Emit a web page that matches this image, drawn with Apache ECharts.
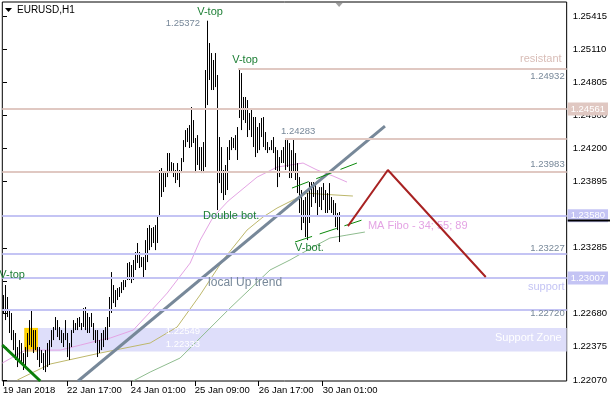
<!DOCTYPE html>
<html><head><meta charset="utf-8">
<script src="https://cdn.jsdelivr.net/npm/echarts@6/dist/echarts.min.js"></script>
<style>html,body{margin:0;padding:0;background:#fff}#c{width:610px;height:400px}</style>
</head><body><div id="c"></div>
<script>
// ---------- data ----------
const barHigh = [
1.22851,1.22943,1.22833,1.22713,1.22686,1.22529,1.22502,1.22373,1.22437,1.22410,
1.22318,1.22373,1.22502,1.22621,1.22713,1.22529,1.22529,1.22373,1.22373,1.22345,
1.22318,1.22345,1.22410,1.22437,1.22529,1.22557,1.22649,1.22621,1.22557,1.22529,
1.22502,1.22621,1.22502,1.22410,1.22529,1.22621,1.22594,1.22640,1.22649,1.22594,
1.22731,1.22741,1.22686,1.22649,1.22686,1.22594,1.22529,1.22529,1.22437,1.22502,
1.22529,1.22557,1.22649,1.22833,1.23062,1.22943,1.22897,1.22915,1.22924,1.22970,
1.22989,1.22989,1.23145,1.23154,1.23127,1.23173,1.23246,1.23329,1.23246,1.23200,
1.23200,1.23356,1.23467,1.23494,1.23467,1.23476,1.23494,1.23586,1.24000,1.24018,
1.23972,1.23981,1.24156,1.24156,1.24073,1.24064,1.24000,1.24064,1.24000,1.24110,
1.24275,1.24367,1.24386,1.24413,1.24579,1.24459,1.24294,1.24321,1.24211,1.24211,
1.24257,1.24919,1.25372,1.25167,1.25075,1.25011,1.25075,1.24873,1.24303,1.24211,
1.24000,1.24046,1.24211,1.24275,1.24303,1.24294,1.24321,1.24395,1.24932,1.24891,
1.24671,1.24671,1.24643,1.24524,1.24569,1.24487,1.24487,1.24395,1.24432,1.24478,
1.24487,1.24349,1.24257,1.24211,1.24275,1.24303,1.24211,1.24183,1.24119,1.24183,
1.24211,1.24283,1.24275,1.24248,1.24183,1.24283,1.24156,1.24064,1.23935,1.23816,
1.23724,1.23752,1.23788,1.23889,1.23889,1.23889,1.23880,1.23816,1.23843,1.23843,
1.23880,1.23816,1.23788,1.23880,1.23752,1.23724,1.23696,1.23605,1.23614];
const barLow = [
1.22686,1.22621,1.22649,1.22502,1.22437,1.22345,1.22254,1.22189,1.22226,1.22226,
1.22162,1.22189,1.22281,1.22391,1.22373,1.22318,1.22345,1.22254,1.22189,1.22226,
1.22162,1.22143,1.22189,1.22208,1.22373,1.22437,1.22529,1.22465,1.22437,1.22410,
1.22373,1.22437,1.22281,1.22254,1.22373,1.22502,1.22529,1.22529,1.22557,1.22529,
1.22557,1.22529,1.22502,1.22502,1.22557,1.22437,1.22410,1.22281,1.22318,1.22345,
1.22373,1.22437,1.22437,1.22557,1.22686,1.22777,1.22741,1.22805,1.22833,1.22869,
1.22897,1.22924,1.22989,1.22989,1.22961,1.22989,1.23081,1.23145,1.23099,1.23108,
1.23016,1.23081,1.23154,1.23264,1.23292,1.23329,1.23264,1.23329,1.23568,1.23752,
1.23798,1.23843,1.23935,1.23972,1.23972,1.23935,1.23880,1.23908,1.23843,1.23972,
1.24073,1.24211,1.24257,1.24202,1.24211,1.24248,1.23972,1.24046,1.24000,1.23972,
1.23972,1.24027,1.24597,1.24827,1.24735,1.24735,1.24762,1.23632,1.23880,1.23788,
1.23724,1.23770,1.23816,1.24092,1.24183,1.24202,1.24183,1.24092,1.24478,1.24367,
1.24459,1.24432,1.24303,1.24367,1.24303,1.24211,1.24119,1.24156,1.24183,1.24303,
1.24211,1.24183,1.24156,1.24183,1.24183,1.24156,1.24000,1.23843,1.23935,1.24064,
1.24064,1.24000,1.24027,1.23926,1.23926,1.23981,1.23908,1.23788,1.23605,1.23448,
1.23513,1.23384,1.23356,1.23513,1.23660,1.23752,1.23696,1.23568,1.23660,1.23632,
1.23724,1.23605,1.23605,1.23632,1.23605,1.23568,1.23476,1.23448,1.23338];

const timeTicks  = [0, 32, 64, 96, 128, 160];
const timeLabels = ['19 Jan 2018', '22 Jan 17:00', '24 Jan 01:00', '25 Jan 09:00', '26 Jan 17:00', '30 Jan 01:00'];
const priceTicks = [1.22070, 1.22375, 1.22680, 1.22980, 1.23285, 1.23580, 1.23895, 1.24200, 1.24500, 1.24805, 1.25110, 1.25415];

// moving averages (bar index, price)
const ma34 = [[-0.35,1.22226],[11.2,1.22345],[28.7,1.22345],[38.7,1.22391],[48.7,1.22437],[53.7,1.22456],[65.2,1.22529],[72.2,1.22667],[82.2,1.22869],[93.7,1.23145],[98.7,1.23356],[105.2,1.23568],[112.7,1.23715],[127.2,1.23935],[137.2,1.24027],[150.2,1.24064],[157.2,1.24000],[165.2,1.23945],[172.2,1.23889]];
const ma55 = [[7.15,1.22070],[23.65,1.22217],[48.65,1.22318],[58.65,1.22355],[73.65,1.22410],[87.15,1.22557],[98.65,1.22851],[110.15,1.23173],[122.15,1.23448],[130.15,1.23568],[137.15,1.23650],[145.15,1.23724],[152.15,1.23788],[158.65,1.23779],[175.15,1.23761]];
const ma89 = [[65.15,1.22061],[73.65,1.22143],[88.65,1.22272],[98.65,1.22456],[113.65,1.22731],[133.65,1.23081],[143.65,1.23173],[155.15,1.23292],[163.65,1.23375],[172.15,1.23402],[181.15,1.23430]];

// drawn objects (bar index, price)
const upTrend     = [[37.6,1.22061],[191.2,1.24404]];
const downTrend   = [[-0.35,1.22392],[18.65,1.22061]];
const chanUpper   = [[144.65,1.23834],[177.15,1.24064]];
const chanLower   = [[146.15,1.23338],[181.15,1.23549]];
const projection  = [[172.65,1.23485],[192.65,1.24000],[241.65,1.23017]];
const resistLevels = [1.24932, 1.24561, 1.24283, 1.23983];
const resistStart  = [117.65, null, 141.15, null];
const supportLevels = [1.23580, 1.23227, 1.23007, 1.22720];
const zoneTop = 1.22549, zoneBottom = 1.22333, zoneStart = 10.65, yellowEnd = 17.5;
const bidPrice = 1.23540;

// ---------- layout / style ----------
const XMIN = -0.35, XMAX = 282.15;
const AX_FONT = '"Liberation Sans",Arial,sans-serif';
const AX_SIZE = 9.5;
const TXT_FONT = '"Liberation Sans",Arial,sans-serif';
const RES_C = '#e0c8c2', SUP_C = '#c4c4f4', GRAY = '#778899', GTXT = '#1d7f35';

const notes = [
  {t:'V-top', x:103.65, y:1.25452, a:'center', c:GTXT, f:11},
  {t:'1.25372', x:98.65, y:1.25351, a:'right', c:GRAY, f:AX_SIZE},
  {t:'V-top', x:121.15, y:1.25011, a:'center', c:GTXT, f:11},
  {t:'1.24283', x:139.15, y:1.24358, a:'left', c:GRAY, f:AX_SIZE},
  {t:'resistant', x:279.65, y:1.25020, a:'right', c:'#d8bcb6', f:11},
  {t:'1.24932', x:281.15, y:1.24864, a:'right', c:GRAY, f:AX_SIZE},
  {t:'1.23983', x:281.15, y:1.24055, a:'right', c:GRAY, f:AX_SIZE},
  {t:'Double bot.', x:100.15, y:1.23577, a:'left', c:GTXT, f:11},
  {t:'V-bot.', x:153.4, y:1.23283, a:'center', c:GTXT, f:11},
  {t:'MA Fibo - 34; 55; 89', x:182.65, y:1.23485, a:'left', c:'#e4a4e4', f:11},
  {t:'1.23227', x:281.15, y:1.23283, a:'right', c:GRAY, f:AX_SIZE},
  {t:'local Up trend', x:102.65, y:1.22961, a:'left', c:GRAY, f:12},
  {t:'support', x:281.15, y:1.22924, a:'right', c:SUP_C, f:11},
  {t:'1.22720', x:281.15, y:1.22686, a:'right', c:GRAY, f:AX_SIZE},
  {t:'Support Zone', x:279.65, y:1.22456, a:'right', c:'#ffffff', f:11},
  {t:'1.22549', x:98.65, y:1.22520, a:'right', c:'#ffffff', f:AX_SIZE},
  {t:'1.22333', x:98.65, y:1.22401, a:'right', c:'#ffffff', f:AX_SIZE},
  {t:'V-top', x:-1.85, y:1.23035, a:'left', c:GTXT, f:11}
];

function hLine(v, x0, color, boxed) {
  return [{
    coord: [x0 == null ? XMIN : x0, v],
    lineStyle: {color: color, width: 2, type: 'solid'},
    label: boxed ? {show: true, position: 'end', distance: 1, formatter: v.toFixed(5),
      color: '#fff', backgroundColor: color, padding: [2, 3, 1, 3],
      fontFamily: AX_FONT, fontSize: AX_SIZE} : {show: false}
  }, {coord: [XMAX, v]}];
}
const levelLines = [];
resistLevels.forEach((v, i) => levelLines.push(hLine(v, resistStart[i], RES_C, v === 1.24561)));
supportLevels.forEach(v => levelLines.push(hLine(v, null, SUP_C, v === 1.23580 || v === 1.23007)));

function simpleLine(data, color, width, z, type) {
  return {type: 'line', data: data, symbol: 'none', z: z, silent: true, clip: true,
    lineStyle: {color: color, width: width, type: type || 'solid'}};
}

const chart = echarts.init(document.getElementById('c'), null, {renderer: 'canvas'});
chart.setOption({
  animation: false,
  backgroundColor: '#fff',
  grid: {left: 2, right: 43, top: 2, bottom: 19, show: true, borderColor: '#000', borderWidth: 1, backgroundColor: '#fff'},
  xAxis: {
    type: 'value', min: XMIN, max: XMAX,
    axisLine: {show: false},
    splitLine: {show: false},
    axisTick: {show: true, customValues: timeTicks, length: 5, lineStyle: {color: '#000'}},
    axisLabel: {show: true, customValues: timeTicks, align: 'left', margin: 4, color: '#000',
      fontFamily: AX_FONT, fontSize: AX_SIZE, hideOverlap: false,
      formatter: v => timeLabels[timeTicks.indexOf(Math.round(v))] || ''}
  },
  yAxis: {
    type: 'value', position: 'right', min: 1.22061, max: 1.25544,
    axisLine: {show: false},
    splitLine: {show: false},
    axisTick: {show: true, customValues: priceTicks, length: 4, lineStyle: {color: '#000'}},
    axisLabel: {show: true, customValues: priceTicks, margin: 6, color: '#000',
      fontFamily: AX_FONT, fontSize: AX_SIZE, formatter: v => v.toFixed(5)}
  },
  series: [
    {type: 'line', data: [], z: 0, silent: true,
      markArea: {silent: true, data: [
        [{coord: [zoneStart, zoneTop], itemStyle: {color: '#dedefa'}}, {coord: [XMAX, zoneBottom]}],
        [{coord: [zoneStart, zoneTop], itemStyle: {color: '#ffd200'}}, {coord: [yellowEnd, zoneBottom]}]
      ]}},
    simpleLine(ma34, '#e4a4e4', 1, 1),
    simpleLine(ma55, '#bdb76b', 1, 1),
    simpleLine(ma89, '#8fbc8f', 1, 1),
    {type: 'custom', z: 2, silent: true, clip: true,
      data: barHigh.map((h, i) => [i, h, barLow[i]]),
      encode: {x: 0, y: [1, 2]},
      renderItem: function (params, api) {
        const hi = api.coord([api.value(0), api.value(1)]);
        const lo = api.coord([api.value(0), api.value(2)]);
        const x = Math.round(hi[0]) + 0.5;
        return {type: 'line', shape: {x1: x, y1: hi[1], x2: x, y2: lo[1]}, style: {stroke: '#000', lineWidth: 1}};
      }},
    {type: 'line', data: [], z: 3, silent: true,
      markLine: {symbol: 'none', silent: true, animation: false, data: levelLines}},
    simpleLine(upTrend, GRAY, 3, 4),
    simpleLine(downTrend, '#0a7f0a', 3, 4),
    simpleLine(chanUpper, '#0a8a0a', 1, 4, [18, 8]),
    simpleLine(chanLower, '#0a8a0a', 1, 4, [18, 8]),
    {type: 'custom', z: 5, silent: true, clip: false,
      data: notes.map(n => [n.x, n.y]),
      encode: {x: 0, y: 1},
      renderItem: function (params, api) {
        const n = notes[params.dataIndex];
        const p = api.coord([api.value(0), api.value(1)]);
        return {type: 'text', x: p[0], y: p[1], style: {text: n.t, fill: n.c,
          font: n.f + 'px ' + TXT_FONT, align: n.a, verticalAlign: 'middle'}};
      }},
    simpleLine(projection, '#a82222', 2, 6)
  ]
});

// small markers that sit outside the plotting area, placed with the library's scale
const bidY = chart.convertToPixel({yAxisIndex: 0}, bidPrice);
const lastX = chart.convertToPixel({xAxisIndex: 0}, barHigh.length - 1);
const right = chart.convertToPixel({xAxisIndex: 0}, XMAX);
const topY = chart.convertToPixel({yAxisIndex: 0}, 1.25544);
chart.setOption({graphic: [
  {type: 'line', shape: {x1: right + 1, y1: Math.round(bidY) + 0.5, x2: 610, y2: Math.round(bidY) + 0.5}, style: {stroke: '#000', lineWidth: 2}, z: 10},
  {type: 'polygon', shape: {points: [[lastX - 3, topY + 1], [lastX + 4, topY + 1], [lastX + 0.5, topY + 5]]}, style: {fill: '#a0a0a0'}, z: 10},
  {type: 'polygon', shape: {points: [[5, 8], [12, 8], [8.5, 12]]}, style: {fill: '#000'}, z: 10},
  {type: 'text', x: 17, y: 10, style: {text: 'EURUSD,H1', fill: '#000', font: '10px ' + AX_FONT, verticalAlign: 'middle'}, z: 10}
]});
</script></body></html>
